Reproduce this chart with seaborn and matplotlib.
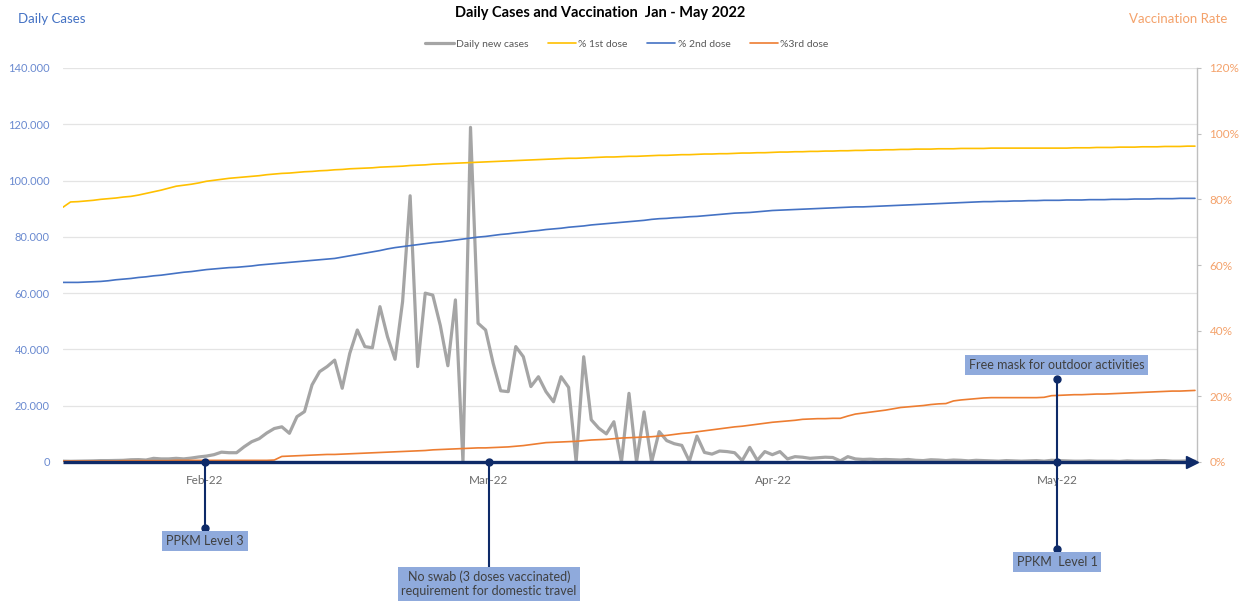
import numpy as np
import pandas as pd
import matplotlib
matplotlib.use("Agg")
import matplotlib.pyplot as plt
from matplotlib.lines import Line2D
from matplotlib.ticker import FuncFormatter
import seaborn as sns

# ---- data: one value per day, 1 Jan .. 31 May 2022 ----
days = np.arange(151)

daily_cases = [
    300, 250, 300, 350, 400, 500, 500, 550, 600, 800,
    850, 700, 1300, 1100, 1100, 1300, 1100, 1400, 1800, 2100,
    2600, 3500, 3300, 3300, 5400, 7200, 8300, 10300, 11900, 12500,
    10200, 16100, 17900, 27400, 32100, 33900, 36200, 26200, 38600, 46900,
    41000, 40600, 55200, 44500, 36500, 57000, 94600, 33900, 60000, 59300,
    48500, 34200, 57600, 0, 118900, 49300, 46900, 35100, 25300, 25000,
    41000, 37400, 26800, 30300, 25000, 21400, 30300, 26500, 0, 37400,
    15000, 12000, 10000, 14300, 0, 24400, 0, 17800, 0, 10800,
    7600, 6500, 5900, 300, 9200, 3400, 2800, 3900, 3700, 3300,
    500, 5200, 600, 3700, 2600, 3700, 1100, 1900, 1700, 1300,
    1500, 1700, 1600, 400, 1900, 1100, 900, 1000, 800, 900,
    800, 700, 900, 600, 500, 800, 700, 500, 700, 600,
    400, 600, 500, 400, 300, 500, 400, 300, 400, 500,
    300, 600, 500, 400, 300, 300, 400, 300, 300, 300,
    200, 400, 300, 300, 300, 500, 500, 300, 300, 400, 300,
]

first_dose = [
    77.6, 79.2, 79.3, 79.5, 79.7, 80.0, 80.2, 80.4, 80.7, 80.9,
    81.3, 81.8, 82.3, 82.8, 83.4, 84.0, 84.3, 84.6, 85.0, 85.5,
    85.8, 86.1, 86.4, 86.6, 86.8, 87.0, 87.2, 87.5, 87.7, 87.9,
    88.0, 88.2, 88.4, 88.5, 88.7, 88.8, 89.0, 89.1, 89.3, 89.4,
    89.5, 89.6, 89.8, 89.9, 90.0, 90.1, 90.3, 90.4, 90.5, 90.7,
    90.8, 90.9, 91.0, 91.1, 91.2, 91.3, 91.4, 91.5, 91.6, 91.7,
    91.8, 91.9, 92.0, 92.1, 92.2, 92.3, 92.4, 92.5, 92.5, 92.6,
    92.7, 92.8, 92.9, 92.9, 93.0, 93.1, 93.1, 93.2, 93.3, 93.4,
    93.4, 93.5, 93.6, 93.6, 93.7, 93.8, 93.8, 93.9, 93.9, 94.0,
    94.1, 94.1, 94.2, 94.2, 94.3, 94.4, 94.4, 94.5, 94.5, 94.6,
    94.6, 94.7, 94.7, 94.8, 94.8, 94.9, 94.9, 95.0, 95.0, 95.1,
    95.1, 95.2, 95.2, 95.3, 95.3, 95.3, 95.4, 95.4, 95.4, 95.5,
    95.5, 95.5, 95.5, 95.6, 95.6, 95.6, 95.6, 95.6, 95.6, 95.6,
    95.6, 95.6, 95.6, 95.6, 95.7, 95.7, 95.7, 95.8, 95.8, 95.8,
    95.9, 95.9, 95.9, 96.0, 96.0, 96.0, 96.1, 96.1, 96.1, 96.2, 96.2,
]

second_dose = [
    54.7, 54.7, 54.7, 54.8, 54.9, 55.0, 55.2, 55.5, 55.7, 55.9,
    56.2, 56.4, 56.7, 56.9, 57.2, 57.5, 57.8, 58.0, 58.3, 58.6,
    58.8, 59.0, 59.2, 59.3, 59.5, 59.7, 60.0, 60.2, 60.4, 60.6,
    60.8, 61.0, 61.2, 61.4, 61.6, 61.8, 62.0, 62.4, 62.8, 63.2,
    63.6, 64.0, 64.4, 64.9, 65.3, 65.6, 65.9, 66.2, 66.5, 66.8,
    67.0, 67.3, 67.6, 67.9, 68.2, 68.5, 68.7, 69.0, 69.3, 69.5,
    69.8, 70.0, 70.3, 70.5, 70.8, 71.0, 71.2, 71.5, 71.7, 71.9,
    72.2, 72.4, 72.6, 72.8, 73.0, 73.2, 73.4, 73.6, 73.9, 74.1,
    74.2, 74.4, 74.5, 74.7, 74.8, 75.0, 75.2, 75.4, 75.6, 75.8,
    75.9, 76.0, 76.2, 76.4, 76.6, 76.7, 76.8, 76.9, 77.0, 77.1,
    77.2, 77.3, 77.4, 77.5, 77.6, 77.7, 77.7, 77.8, 77.9, 78.0,
    78.1, 78.2, 78.3, 78.4, 78.5, 78.6, 78.7, 78.8, 78.9, 79.0,
    79.1, 79.2, 79.3, 79.3, 79.4, 79.4, 79.5, 79.5, 79.6, 79.6,
    79.7, 79.7, 79.7, 79.8, 79.8, 79.8, 79.9, 79.9, 79.9, 80.0,
    80.0, 80.0, 80.1, 80.1, 80.1, 80.2, 80.2, 80.2, 80.3, 80.3, 80.3,
]

third_dose = [
    0.3, 0.3, 0.3, 0.3, 0.3, 0.3, 0.3, 0.3, 0.4, 0.4,
    0.4, 0.4, 0.4, 0.4, 0.4, 0.5, 0.5, 0.5, 0.5, 0.5,
    0.5, 0.5, 0.5, 0.5, 0.5, 0.5, 0.5, 0.5, 0.6, 1.7,
    1.8, 1.9, 2.0, 2.1, 2.2, 2.3, 2.3, 2.4, 2.5, 2.6,
    2.7, 2.8, 2.9, 3.0, 3.1, 3.2, 3.3, 3.4, 3.5, 3.7,
    3.8, 3.9, 4.0, 4.1, 4.2, 4.3, 4.3, 4.4, 4.5, 4.6,
    4.8, 5.0, 5.3, 5.6, 5.9, 6.0, 6.1, 6.2, 6.3, 6.5,
    6.7, 6.8, 6.9, 7.1, 7.3, 7.4, 7.5, 7.6, 7.7, 7.9,
    8.1, 8.4, 8.7, 8.9, 9.2, 9.5, 9.8, 10.1, 10.4, 10.7,
    10.9, 11.2, 11.5, 11.8, 12.1, 12.3, 12.5, 12.7, 13.0, 13.1,
    13.2, 13.2, 13.3, 13.3, 14.0, 14.6, 14.9, 15.2, 15.5, 15.8,
    16.2, 16.6, 16.8, 17.0, 17.2, 17.5, 17.7, 17.8, 18.6, 18.9,
    19.1, 19.3, 19.5, 19.6, 19.6, 19.6, 19.6, 19.6, 19.6, 19.6,
    19.7, 20.2, 20.3, 20.4, 20.5, 20.5, 20.6, 20.7, 20.7, 20.8,
    20.9, 21.0, 21.1, 21.2, 21.3, 21.4, 21.5, 21.6, 21.6, 21.7, 21.8,
]

month_labels = ["Feb-22", "Mar-22", "Apr-22", "May-22"]
case_ticks = [0, 20000, 40000, 60000, 80000, 100000, 120000, 140000]
rate_ticks = [0, 20, 40, 60, 80, 100, 120]

series_names = ["Daily new cases", "% 1st dose", "% 2nd dose", "%3rd dose"]

# ---- styling ----
C_CASES = "#A5A5A5"
C_FIRST = "#FFC000"
C_SECOND = "#4472C4"
C_THIRD = "#ED7D31"
NAVY = "#0E2A68"
BOX = "#8FAADC"
BOX_TEXT = "#404040"

sns.set_theme(style="white")
plt.rcParams["font.family"] = ["Lato", "DejaVu Sans"]

df = pd.DataFrame({
    "day": days,
    "cases": daily_cases,
    "first": first_dose,
    "second": second_dose,
    "third": third_dose,
})

W, H = 1246, 601
fig = plt.figure(figsize=(W / 100, H / 100), dpi=100)
ax = fig.add_axes([63 / W, 1 - 462 / H, 1134 / W, 394 / H])
ax2 = ax.twinx()

sns.lineplot(data=df, x="day", y="cases", ax=ax, color=C_CASES, linewidth=2.3, legend=False)
sns.lineplot(data=df, x="day", y="first", ax=ax2, color=C_FIRST, linewidth=1.2, legend=False)
sns.lineplot(data=df, x="day", y="second", ax=ax2, color=C_SECOND, linewidth=1.2, legend=False)
sns.lineplot(data=df, x="day", y="third", ax=ax2, color=C_THIRD, linewidth=1.2, legend=False)

# axis ranges
ax.set_xlim(0, 150.27)
ax.set_ylim(case_ticks[0], case_ticks[-1])
ax2.set_ylim(rate_ticks[0], rate_ticks[-1])
for a in (ax, ax2):
    a.set_xlabel("")
    a.set_ylabel("")
    for s in ("top", "left", "bottom", "right"):
        a.spines[s].set_visible(False)
ax2.spines["right"].set_visible(True)
ax2.spines["right"].set_color("#BFBFBF")
ax2.spines["right"].set_linewidth(1.0)

# left axis: case counts with dot thousands separator
ax.set_yticks(case_ticks)
ax.yaxis.set_major_formatter(FuncFormatter(lambda v, p: f"{int(v):,}".replace(",", ".")))
ax.tick_params(axis="y", length=0, pad=9.5, labelsize=8, labelcolor="#6A8AD0")
ax.yaxis.grid(True, color="#E4E4E4", linewidth=0.9)
ax.xaxis.grid(False)

# right axis: vaccination rate
ax2.set_yticks(rate_ticks)
ax2.yaxis.set_major_formatter(FuncFormatter(lambda v, p: f"{int(v)}%"))
ax2.tick_params(axis="y", length=3, width=0.8, color="#BFBFBF", pad=6,
                labelsize=8.5, labelcolor="#F4A26B")
ax2.grid(False)

# category blocks on the time axis: tick marks between, month names centred
block = 150 / 3.986
ax.set_xticks([block * k for k in range(4)])
ax.set_xticklabels([])
ax.set_xticks([block * (k + 0.5) for k in range(4)], minor=True)
ax.set_xticklabels(month_labels, minor=True)
ax.tick_params(axis="x", which="major", direction="out", length=2.5, width=3, color=NAVY)
ax.tick_params(axis="x", which="minor", length=0, pad=9, labelsize=8.5, labelcolor="#6B6B6B")

# time axis drawn as a navy arrow
ax2.plot([0, 149.4], [0, 0], color=NAVY, linewidth=2.4, clip_on=False, zorder=10,
         solid_capstyle="butt")
ax2.plot([149.6], [0], marker=">", markersize=8, color=NAVY, clip_on=False, zorder=10)

# policy milestones
tr = ax2.get_xaxis_transform()
px = lambda ypx: (462 - ypx) / 394  # pixel row -> axes fraction


def stem(x, y0, y1, dots):
    ax2.plot([x, x], [px(y0), px(y1)], transform=tr, color=NAVY, linewidth=1.5,
             clip_on=False, zorder=11)
    ax2.plot([x] * len(dots), [px(d) for d in dots], transform=tr, linestyle="none",
             marker="o", markersize=5, color=NAVY, clip_on=False, zorder=11)


def note(x, ypx, text):
    ax2.text(x, px(ypx), text, transform=tr, ha="center", va="center", fontsize=9,
             color=BOX_TEXT, linespacing=1.2, clip_on=False, zorder=12,
             bbox=dict(boxstyle="square,pad=0.3", fc=BOX, ec="none"))


feb, mar, may = block * 0.5, block * 1.5, block * 3.5
stem(feb, 462, 528, [462, 528])
note(feb, 541, "PPKM Level 3")
stem(mar, 462, 567, [462])
note(mar, 584, "No swab (3 doses vaccinated)\nrequirement for domestic travel")
stem(may, 379, 549, [379, 462, 549])
note(may, 365, "Free mask for outdoor activities")
note(may, 562, "PPKM  Level 1")

# titles and axis captions
fig.text(600 / W, 1 - 13 / H, "Daily Cases and Vaccination  Jan - May 2022", ha="center",
         va="center", fontsize=10.5, fontweight="bold", color="black")
fig.text(18 / W, 1 - 19 / H, "Daily Cases", ha="left", va="center", fontsize=9.5,
         color="#4472C4")
fig.text(1227 / W, 1 - 19 / H, "Vaccination Rate", ha="right", va="center", fontsize=9.5,
         color="#F4A26B")

handles = [
    Line2D([], [], color=C_CASES, linewidth=2.3),
    Line2D([], [], color=C_FIRST, linewidth=1.2),
    Line2D([], [], color=C_SECOND, linewidth=1.2),
    Line2D([], [], color=C_THIRD, linewidth=1.2),
]
fig.legend(handles, series_names, loc="center", bbox_to_anchor=(627 / W, 1 - 44 / H), ncol=4,
           frameon=False, fontsize=7.5, handlelength=2.7, handletextpad=0.2,
           columnspacing=1.9, labelcolor="#595959")

fig.savefig("out.png", dpi=100)
